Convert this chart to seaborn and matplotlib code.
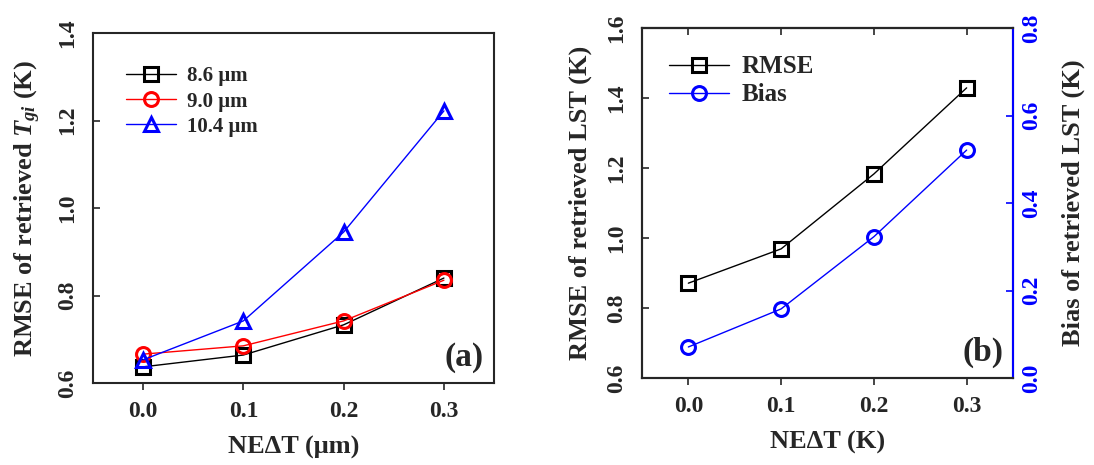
import pandas as pd
import seaborn as sns
import matplotlib.pyplot as plt

# data
nedt = [0.0, 0.1, 0.2, 0.3]
rmse_86 = [0.637, 0.664, 0.733, 0.840]
rmse_90 = [0.666, 0.685, 0.742, 0.835]
rmse_104 = [0.653, 0.742, 0.945, 1.222]
lst_rmse = [0.871, 0.969, 1.183, 1.429]
lst_bias = [0.071, 0.158, 0.323, 0.521]

sns.set_style('ticks')
plt.rcParams['font.family'] = ['Liberation Serif', 'DejaVu Serif']
plt.rcParams['font.weight'] = 'bold'
plt.rcParams['axes.labelweight'] = 'bold'
plt.rcParams['mathtext.fontset'] = 'custom'
plt.rcParams['mathtext.it'] = 'Liberation Serif:italic:bold'
plt.rcParams['mathtext.rm'] = 'Liberation Serif:bold'
plt.rcParams['axes.linewidth'] = 1.5

fig = plt.figure(figsize=(10.94, 4.65), dpi=100)
ax1 = fig.add_axes([0.085, 0.1763, 0.3666, 0.7527])
ax2 = fig.add_axes([0.5868, 0.187, 0.3392, 0.7528])

mk = dict(markerfacecolor='none', markersize=10, markeredgewidth=2.2, linewidth=1)

# panel (a)
sns.lineplot(x=nedt, y=rmse_86, ax=ax1, color='black', marker='s', markeredgecolor='black', label='8.6 μm', **mk)
sns.lineplot(x=nedt, y=rmse_90, ax=ax1, color='red', marker='o', markeredgecolor='red', label='9.0 μm', **mk)
sns.lineplot(x=nedt, y=rmse_104, ax=ax1, color='blue', marker='^', markeredgecolor='blue', label='10.4 μm', **mk)
ax1.set_xlim(-0.05, 0.35)
ax1.set_ylim(0.6, 1.4)
ax1.set_xticks(nedt)
ax1.set_yticks([0.6, 0.8, 1.0, 1.2, 1.4])
ax1.tick_params(axis='x', direction='out', length=5, width=1.2, labelsize=17, pad=8)
ax1.tick_params(axis='y', direction='in', length=5, width=1.2, labelsize=17, labelrotation=90, pad=11)
for t in ax1.get_yticklabels():
    t.set_verticalalignment('center')
ax1.set_xlabel('NEΔT (μm)', fontsize=19, labelpad=10)
ax1.set_ylabel('RMSE of retrieved $T_{gi}$ (K)', fontsize=19, labelpad=10)
ax1.legend(loc='upper left', frameon=False, fontsize=15, handlelength=2.4, borderaxespad=1.3,
           labelspacing=0.25, handletextpad=0.5, borderpad=0.3)
ax1.text(0.975, 0.03, '(a)', transform=ax1.transAxes, ha='right', va='bottom', fontsize=24, fontweight='bold')

# panel (b)
ax3 = ax2.twinx()
sns.lineplot(x=nedt, y=lst_rmse, ax=ax2, color='black', marker='s', markeredgecolor='black', legend=False, **mk)
sns.lineplot(x=nedt, y=lst_bias, ax=ax3, color='blue', marker='o', markeredgecolor='blue', legend=False, **mk)
ax2.set_xlim(-0.05, 0.35)
ax2.set_ylim(0.6, 1.6)
ax3.set_ylim(0.0, 0.8)
ax2.set_xticks(nedt)
ax2.set_yticks([0.6, 0.8, 1.0, 1.2, 1.4, 1.6])
ax3.set_yticks([0.0, 0.2, 0.4, 0.6, 0.8])
ax2.tick_params(axis='x', direction='out', length=5, width=1.2, labelsize=17, pad=8)
ax2.tick_params(axis='y', direction='in', length=5, width=1.2, labelsize=17, labelrotation=90, pad=11)
ax3.tick_params(axis='y', direction='in', length=5, width=1.2, labelsize=17, labelrotation=90,
                colors='blue', pad=6)
for t in ax2.get_yticklabels() + ax3.get_yticklabels():
    t.set_verticalalignment('center')
sec = ax2.secondary_xaxis('top')
sec.set_xticks(nedt)
sec.tick_params(direction='in', length=5, width=1.2, labeltop=False)
ax3.spines['right'].set_color('blue')
ax3.spines['right'].set_linewidth(1.5)
ax2.set_xlabel('NEΔT (K)', fontsize=19, labelpad=10)
ax2.set_ylabel('RMSE of retrieved LST (K)', fontsize=19, labelpad=10)
ax3.set_ylabel('Bias of retrieved LST (K)', fontsize=19, labelpad=14)
h1 = ax2.get_lines()[0]
h2 = ax3.get_lines()[0]
ax2.legend([h1, h2], ['RMSE', 'Bias'], loc='upper left', frameon=False, fontsize=18,
           handlelength=2.4, borderaxespad=0.8, labelspacing=0.2, handletextpad=0.5, borderpad=0.3)
ax2.text(0.975, 0.03, '(b)', transform=ax2.transAxes, ha='right', va='bottom', fontsize=24, fontweight='bold')

plt.savefig('out.png', dpi=100)
